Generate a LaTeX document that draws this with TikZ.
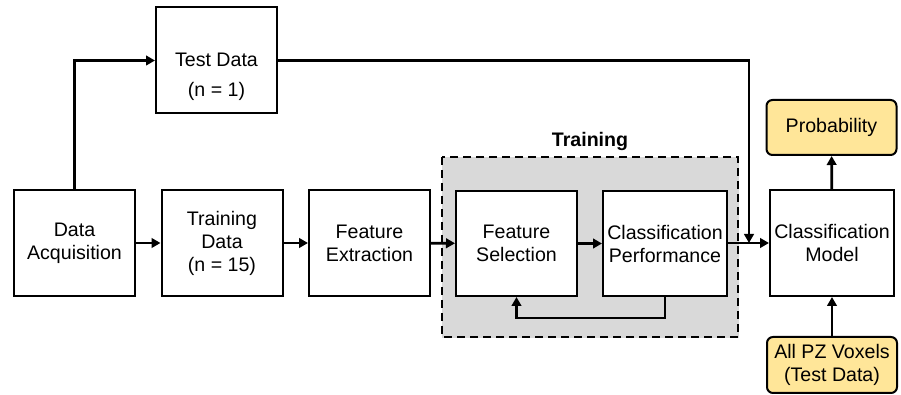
\documentclass[tikz,border=0pt]{standalone}
\usepackage{fontspec}
\setmainfont{Liberation Sans}
\usetikzlibrary{arrows.meta}
\definecolor{PanelGray}{HTML}{D9D9D9}
\definecolor{OutYellow}{HTML}{FFE699}

\begin{document}
\begin{tikzpicture}[x=0.5pt,y=-0.5pt,
  every node/.style={font=\fontsize{9.8}{11.5}\selectfont},
  stage/.style={draw, line width=1pt, fill=white, align=center, inner sep=0pt,
    minimum width=60.5pt, minimum height=53pt},
  result/.style={draw, line width=1pt, fill=OutYellow, rounded corners=3pt,
    align=center, inner sep=0pt, minimum width=65pt, minimum height=27.5pt},
  flow/.style={line width=1.4pt, -{Triangle[length=4.5pt,width=4.8pt]}}]
  \useasboundingbox (0,0) rectangle (901,395);
  % training panel
  \draw[PanelGray, fill=PanelGray] (442,157) rectangle (738,337);
  \draw[line width=1pt, dash pattern=on 4pt off 2.5pt] (442,157) rectangle (738,337);
  \node[font=\fontsize{9.8}{11.5}\selectfont\bfseries] (trainlbl) at (590,141) {Training};
  % boxes
  \node[stage] (acq) at (74.5,243) {Data\\Acquisition};
  \node[stage] (train) at (222,243) {Training\\Data\\(n = 15)};
  \node[stage] (feat) at (369.5,243) {Feature\\Extraction};
  \node[stage] (test) at (216.5,60.5) {};
  \node[align=center] (testlbl) at (216.5,77) {Test Data\\[3.5pt](n = 1)};
  \node[stage, minimum height=52.5pt] (sel) at (516.5,243.5) {Feature\\Selection};
  \node[stage, minimum width=62pt, minimum height=52.5pt] (perf) at (665,243.5) {Classification\\Performance};
  \node[stage, minimum width=62pt] (model) at (832,243) {Classification\\Model};
  \node[result] (prob) at (831.5,127.5) {Probability};
  \node[result, minimum height=28pt] (vox) at (832,365) {All PZ Voxels\\(Test Data)};
  \coordinate (join) at (749,243);
  % connectors
  \draw[flow] (acq.north) |- (test.west);
  \draw[flow] (acq) -- (train);
  \draw[flow] (train) -- (feat);
  \draw[flow] (feat) -- (sel);
  \draw[flow] (sel) -- (perf);
  \draw[flow] (perf.east |- model.west) -- (model.west);
  \draw[flow] (test.east) -| (join);
  \draw[flow] (perf.south) -- ++(0,21) -| (sel.south);
  \draw[flow] (model) -- (prob);
  \draw[flow] (vox) -- (model);
\end{tikzpicture}
\end{document}
